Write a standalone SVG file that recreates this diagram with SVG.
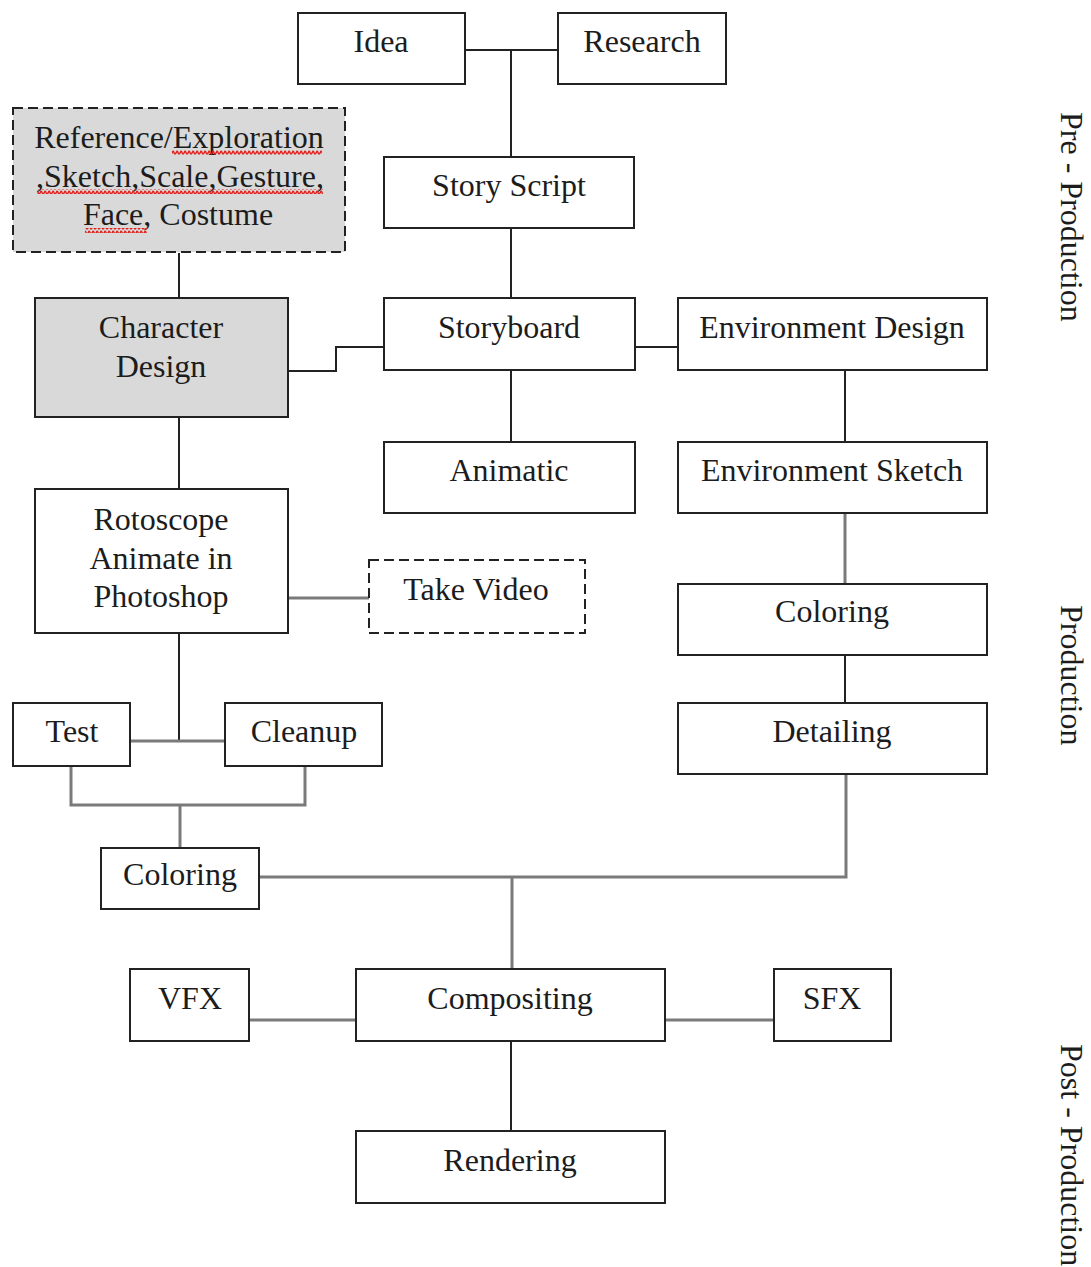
<svg xmlns="http://www.w3.org/2000/svg" width="1091" height="1267" viewBox="0 0 1091 1267">
<defs>
<pattern id="squiggle" patternUnits="userSpaceOnUse" width="4" height="5">
<path d="M0 3.5 Q1 -0.5 2 2.5 T4 2.5" fill="none" stroke="#e0201c" stroke-width="1.4"/>
</pattern>
<style>
.box{fill:#ffffff;stroke:#222;stroke-width:2}
.grey{fill:#d9d9d9}
.dash{stroke-dasharray:10 5}
.t{font-family:"Liberation Serif","Times New Roman",serif;font-size:32px;fill:#1c1c1c;text-anchor:middle}
.side{font-family:"Liberation Serif","Times New Roman",serif;font-size:32px;fill:#1c1c1c}
.c{fill:none;stroke:#222;stroke-width:2}
.g{fill:none;stroke:#7a7a7a;stroke-width:3}
</style>
</defs>
<rect width="1091" height="1267" fill="#ffffff"/>

<g id="connectors">
<path class="c" d="M465 50 H558 M511 50 V157"/>
<path class="c" d="M511 228 V298"/>
<path class="c" d="M511 370 V442"/>
<path class="c" d="M635 347 H678"/>
<path class="c" d="M845 370 V442"/>
<path class="g" d="M845 513 V584"/>
<path class="c" d="M845 655 V703"/>
<path class="c" d="M179 253 V298"/>
<path class="c" d="M288 371 H336 V347 H384"/>
<path class="c" d="M179 417 V489"/>
<path class="g" d="M288 598 H369"/>
<path class="c" d="M179 633 V741"/>
<path class="g" d="M130 741 H225"/>
<path class="g" d="M71 766 V805 H305 V766 M180 805 V848"/>
<path class="g" d="M259 877 H846 V774 M512 877 V969"/>
<path class="g" d="M249 1020 H356 M665 1020 H774"/>
<path class="c" d="M511 1041 V1131"/>
</g>

<g id="idea"><rect class="box" x="298" y="13" width="167" height="71"/><text class="t" x="381" y="52">Idea</text></g>
<g id="research"><rect class="box" x="558" y="13" width="168" height="71"/><text class="t" x="642" y="52">Research</text></g>
<g id="story-script"><rect class="box" x="384" y="157" width="250" height="71"/><text class="t" x="509" y="196">Story Script</text></g>
<g id="storyboard"><rect class="box" x="384" y="298" width="251" height="72"/><text class="t" x="509" y="338">Storyboard</text></g>
<g id="animatic"><rect class="box" x="384" y="442" width="251" height="71"/><text class="t" x="509" y="481">Animatic</text></g>
<g id="environment-design"><rect class="box" x="678" y="298" width="309" height="72"/><text class="t" x="832" y="338">Environment Design</text></g>
<g id="environment-sketch"><rect class="box" x="678" y="442" width="309" height="71"/><text class="t" x="832" y="481">Environment Sketch</text></g>
<g id="coloring-env"><rect class="box" x="678" y="584" width="309" height="71"/><text class="t" x="832" y="622">Coloring</text></g>
<g id="detailing"><rect class="box" x="678" y="703" width="309" height="71"/><text class="t" x="832" y="742">Detailing</text></g>

<g id="reference">
<rect class="box grey dash" x="13" y="108" width="332" height="144"/>
<text class="t" x="179" y="148">Reference/Exploration</text>
<text class="t" x="180" y="187">,Sketch,Scale,Gesture,</text>
<text class="t" x="178" y="225">Face, Costume</text>
<rect x="172" y="150" width="150" height="5" fill="url(#squiggle)"/>
<rect x="37" y="189" width="286" height="5" fill="url(#squiggle)"/>
<rect x="85" y="228" width="62" height="5" fill="url(#squiggle)"/>
</g>
<g id="character-design"><rect class="box grey" x="35" y="298" width="253" height="119"/><text class="t" x="161" y="338">Character</text><text class="t" x="161" y="377">Design</text></g>
<g id="rotoscope"><rect class="box" x="35" y="489" width="253" height="144"/><text class="t" x="161" y="530">Rotoscope</text><text class="t" x="161" y="569">Animate in</text><text class="t" x="161" y="607">Photoshop</text></g>
<g id="take-video"><rect class="box dash" x="369" y="560" width="216" height="73"/><text class="t" x="476" y="600">Take Video</text></g>
<g id="test"><rect class="box" x="13" y="703" width="117" height="63"/><text class="t" x="72" y="742">Test</text></g>
<g id="cleanup"><rect class="box" x="225" y="703" width="157" height="63"/><text class="t" x="304" y="742">Cleanup</text></g>
<g id="coloring-char"><rect class="box" x="101" y="848" width="158" height="61"/><text class="t" x="180" y="885">Coloring</text></g>
<g id="vfx"><rect class="box" x="130" y="969" width="119" height="72"/><text class="t" x="190" y="1009">VFX</text></g>
<g id="compositing"><rect class="box" x="356" y="969" width="309" height="72"/><text class="t" x="510" y="1009">Compositing</text></g>
<g id="sfx"><rect class="box" x="774" y="969" width="117" height="72"/><text class="t" x="832" y="1009">SFX</text></g>
<g id="rendering"><rect class="box" x="356" y="1131" width="309" height="72"/><text class="t" x="510" y="1171">Rendering</text></g>

<g id="phase-labels">
<text class="side" transform="translate(1061 112) rotate(90)">Pre - Production</text>
<text class="side" transform="translate(1061 605) rotate(90)">Production</text>
<text class="side" transform="translate(1061 1044) rotate(90)">Post - Production</text>
</g>
</svg>
